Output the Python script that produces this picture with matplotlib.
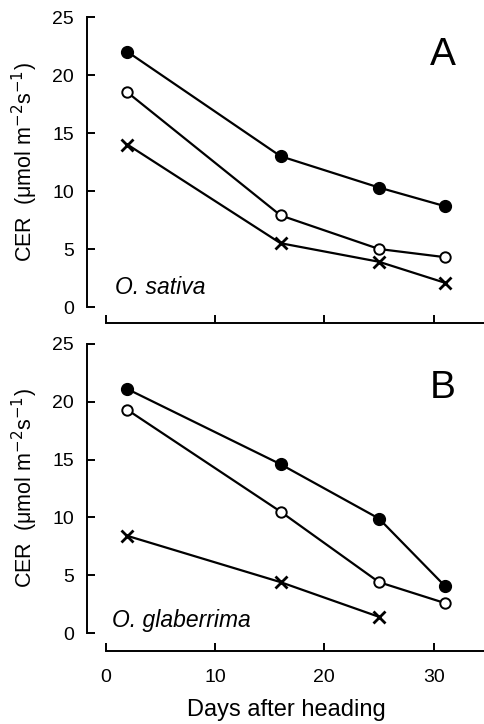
import matplotlib.pyplot as plt

plt.rcParams['font.family'] = ['Liberation Sans', 'DejaVu Sans']

# days after heading
days = [2, 16, 25, 31]
days_b_cross = [2, 16, 25]

# panel A - O. sativa
a_filled = [22.0, 13.0, 10.3, 8.7]
a_open = [18.5, 7.9, 5.0, 4.3]
a_cross = [14.0, 5.5, 3.9, 2.1]

# panel B - O. glaberrima
b_filled = [21.1, 14.6, 9.9, 4.1]
b_open = [19.3, 10.5, 4.4, 2.6]
b_cross = [8.4, 4.4, 1.4]

yticks = [0, 5, 10, 15, 20, 25]
xticks = [0, 10, 20, 30]

W, H = 485, 724
fig = plt.figure(figsize=(W / 100, H / 100), dpi=100)


def make_panel(y0, y25, xaxis_y):
    ax = fig.add_axes([87 / W, (H - y0) / H, 1 - 87 / W, (y0 - y25) / H])
    ax.set_xlim(-1.7, 34.7)
    ax.set_ylim(0, 25)
    for s in ['top', 'right']:
        ax.spines[s].set_visible(False)
    ax.spines['left'].set_linewidth(1.4)
    ax.spines['bottom'].set_linewidth(1.4)
    ax.spines['bottom'].set_position(('outward', (xaxis_y - y0) * 0.72))
    ax.spines['bottom'].set_bounds(0, 34.7)
    ax.set_yticks(yticks)
    ax.set_xticks(xticks)
    ax.tick_params(direction='in', length=6, width=1.4, labelsize=14)
    ax.tick_params(axis='y', pad=9.5)
    ax.tick_params(axis='x', pad=13)
    ax.set_ylabel('CER  (μmol m$^{-2}$s$^{-1}$)', fontsize=15.5)
    ax.yaxis.set_label_coords(-0.118, 0.5)
    return ax


def draw(ax, x, y, kind):
    if kind == 'filled':
        ax.plot(x, y, '-o', color='black', lw=1.6, ms=8.5, mfc='black', clip_on=False)
    elif kind == 'open':
        ax.plot(x, y, '-o', color='black', lw=1.6, ms=7.5, mfc='white', mew=1.4, clip_on=False)
    else:
        ax.plot(x, y, '-x', color='black', lw=1.6, ms=8, mew=2, clip_on=False)


ax1 = make_panel(307, 17, 323)
draw(ax1, days, a_filled, 'filled')
draw(ax1, days, a_open, 'open')
draw(ax1, days, a_cross, 'cross')
ax1.set_xticklabels([])
ax1.text(0.07, 0.045, 'O. sativa', transform=ax1.transAxes, style='italic', fontsize=16.5)
ax1.text(0.862, 0.835, 'A', transform=ax1.transAxes, fontsize=28)

ax2 = make_panel(633, 344, 651)
draw(ax2, days, b_filled, 'filled')
draw(ax2, days, b_open, 'open')
draw(ax2, days_b_cross, b_cross, 'cross')
ax2.text(0.063, 0.022, 'O. glaberrima', transform=ax2.transAxes, style='italic', fontsize=16.5)
ax2.text(0.862, 0.813, 'B', transform=ax2.transAxes, fontsize=28)
ax2.set_xlabel('Days after heading', fontsize=17, labelpad=9)

fig.savefig('out.png', dpi=100)
